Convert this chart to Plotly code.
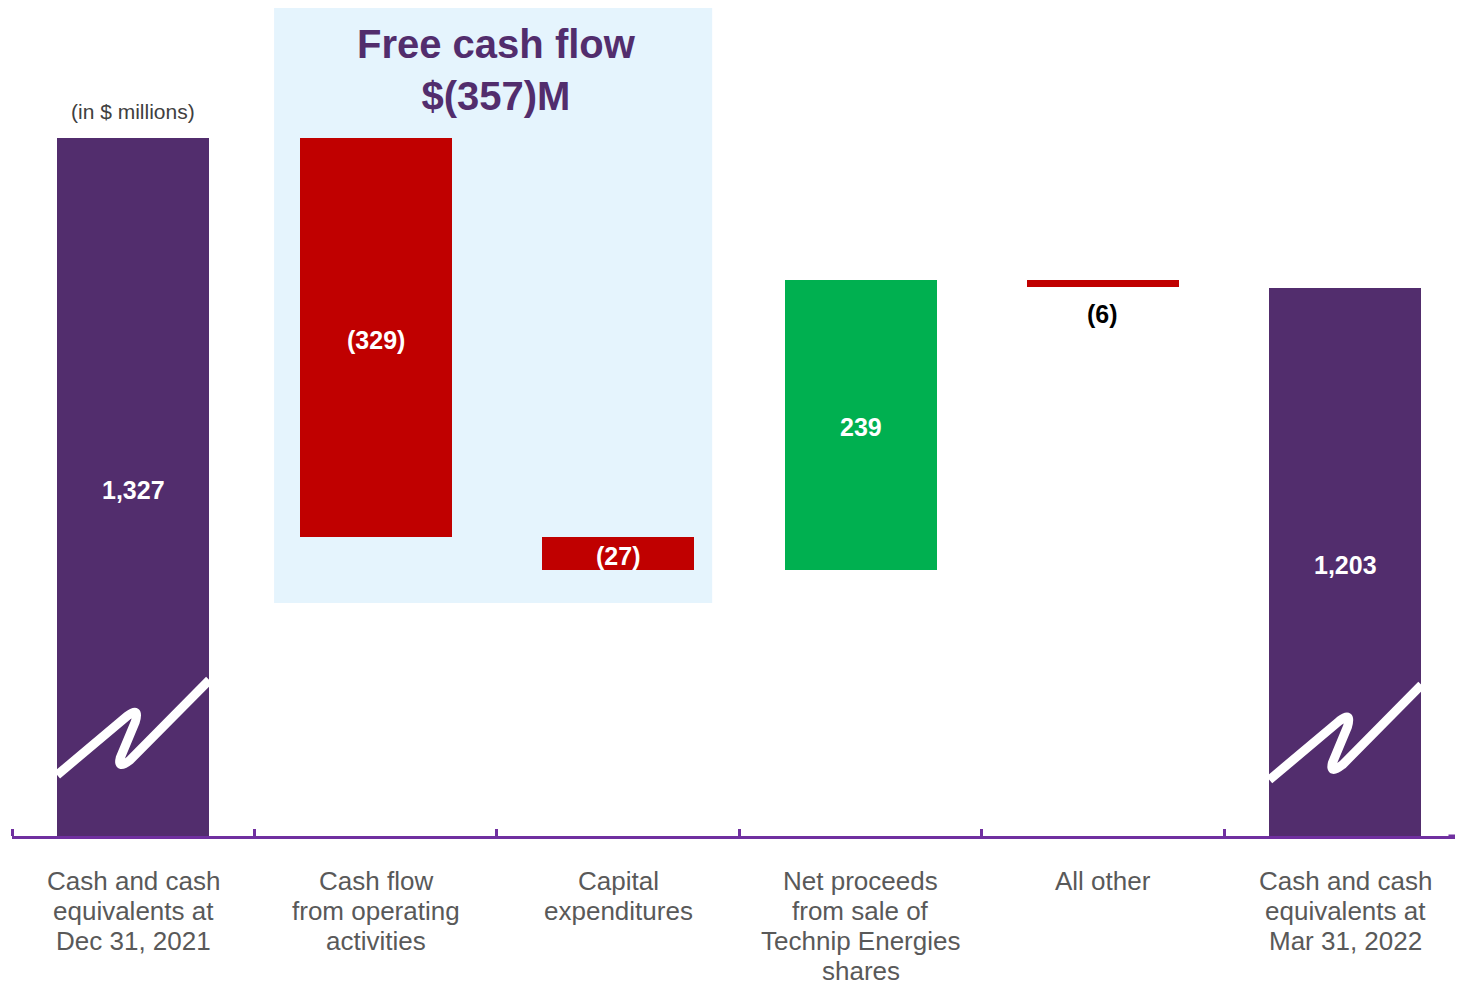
import plotly.graph_objects as go

# ---------------- data ----------------
categories = [
    "Cash and cash<br>equivalents at<br>Dec 31, 2021",
    "Cash flow<br>from operating<br>activities",
    "Capital<br>expenditures",
    "Net proceeds<br>from sale of<br>Technip Energies<br>shares",
    "All other",
    "Cash and cash<br>equivalents at<br>Mar 31, 2022",
]
values = [1327, -329, -27, 239, -6, 1203]
kinds = ["total", "delta", "delta", "delta", "delta", "total"]
value_labels = ["1,327", "(329)", "(27)", "239", "(6)", "1,203"]
label_inside = [True, True, True, True, False, True]
fcf_group = [1, 2]
fcf_title = "Free cash flow<br>$(357)M"
unit_note = "(in $ millions)"

# broken axis window (value range shown)
y_min, y_max = 751.5, 1434.2

# ---------------- styles ----------------
PURPLE = "#522D6D"
RED = "#C00000"
GREEN = "#00B050"
AXIS = "#7030A0"
BLUE_BG = "#E5F4FD"
FONT = "Liberation Sans, Arial, sans-serif"
BAR_W = 0.627

# ---------------- waterfall computation ----------------
x_idx = list(range(len(categories)))
bases, heights, colors, lab_y = [], [], [], []
running = 0
for v, k in zip(values, kinds):
    if k == "total":
        bases.append(0)
        heights.append(v)
        colors.append(PURPLE)
        running = v
        lab_y.append((y_min + v) / 2)
    else:
        bases.append(running)
        heights.append(v)
        colors.append(RED if v < 0 else GREEN)
        lab_y.append(running + v / 2)
        running += v

fig = go.Figure()
fig.add_trace(go.Bar(
    x=x_idx, y=heights, base=bases, width=BAR_W,
    marker=dict(color=colors, line=dict(width=0)),
    hoverinfo="skip", showlegend=False,
))

annotations = []
# value labels
for i in x_idx:
    if label_inside[i]:
        annotations.append(dict(
            x=i, y=lab_y[i], xref="x", yref="y", text=value_labels[i],
            showarrow=False, xanchor="center", yanchor="middle", yshift=-2.5,
            font=dict(family=FONT, size=25, color="white", weight="bold"),
        ))
    else:
        bottom = min(bases[i], bases[i] + heights[i])
        annotations.append(dict(
            x=i, y=bottom, xref="x", yref="y", text=value_labels[i],
            showarrow=False, xanchor="center", yanchor="top", yshift=-11,
            font=dict(family=FONT, size=25, color="black", weight="bold"),
        ))

shapes = []
# free cash flow background box
shapes.append(dict(
    type="rect", xref="x", yref="paper", layer="below",
    x0=min(fcf_group) - 0.419, x1=max(fcf_group) + 0.388,
    y0=0.2814, y1=1.0036,
    fillcolor=BLUE_BG, line=dict(width=0),
))
# axis line continues to the right page edge
shapes.append(dict(
    type="line", xref="paper", yref="paper", x0=0.99, x1=1.02, y0=0, y1=0,
    line=dict(color=AXIS, width=3), layer="above",
))

# axis-break zigzag on total bars (decoration)
zig = [("M", -0.3138, 50.3), ("L", -0.0248, 98.9),
       ("Q", 0.0289, 107.2), ("", 0.0083, 94.0),
       ("L", -0.0537, 64.3),
       ("Q", -0.0661, 54.4), ("", -0.0124, 62.7),
       ("L", 0.3138, 128.6)]
for i, k in enumerate(kinds):
    if k != "total":
        continue
    shift = 0 if i == 0 else -4
    parts = []
    for cmd, dx, dy in zig:
        parts.append(f"{cmd}{i + dx:.4f},{y_min + dy + shift:.2f}")
    shapes.append(dict(
        type="path", xref="x", yref="y", path=" ".join(parts),
        line=dict(color="white", width=9), layer="above",
    ))

# category labels, line by line
for i, lab in enumerate(categories):
    for k, line in enumerate(lab.split("<br>")):
        annotations.append(dict(
            x=i, y=0, xref="x", yref="paper", text=line, showarrow=False,
            yanchor="middle", xanchor="center", yshift=-(44.5 + 30 * k),
            font=dict(family=FONT, size=26, color="#595959"),
        ))

annotations.append(dict(
    x=sum(fcf_group) / 2, y=1383, xref="x", yref="y", text=fcf_title,
    showarrow=False, yanchor="middle", xanchor="center",
    font=dict(family=FONT, size=40, color=PURPLE, weight="bold"),
))
annotations.append(dict(
    x=0, y=values[0], xref="x", yref="y", text=unit_note, showarrow=False,
    yanchor="bottom", xanchor="center", yshift=13,
    font=dict(family=FONT, size=21, color="#404040"),
))

fig.update_layout(
    width=1455, height=976,
    margin=dict(l=4, r=0, t=0, b=148),
    paper_bgcolor="white", plot_bgcolor="white",
    bargap=0, shapes=shapes, annotations=annotations,
    xaxis=dict(
        range=[-0.5, 5.485], tickvals=x_idx, ticktext=[""] * len(x_idx),
        ticks="", showgrid=False, zeroline=False,
        showline=True, linecolor=AXIS, linewidth=3,
        minor=dict(tickmode="array", tickvals=[i - 0.5 for i in range(len(x_idx) + 1)],
                   ticks="inside", ticklen=7, tickwidth=3, tickcolor=AXIS,
                   showgrid=False),
    ),
    yaxis=dict(range=[y_min, y_max], visible=False, showgrid=False, zeroline=False),
    font=dict(family=FONT),
)

fig.write_html("out.html")
